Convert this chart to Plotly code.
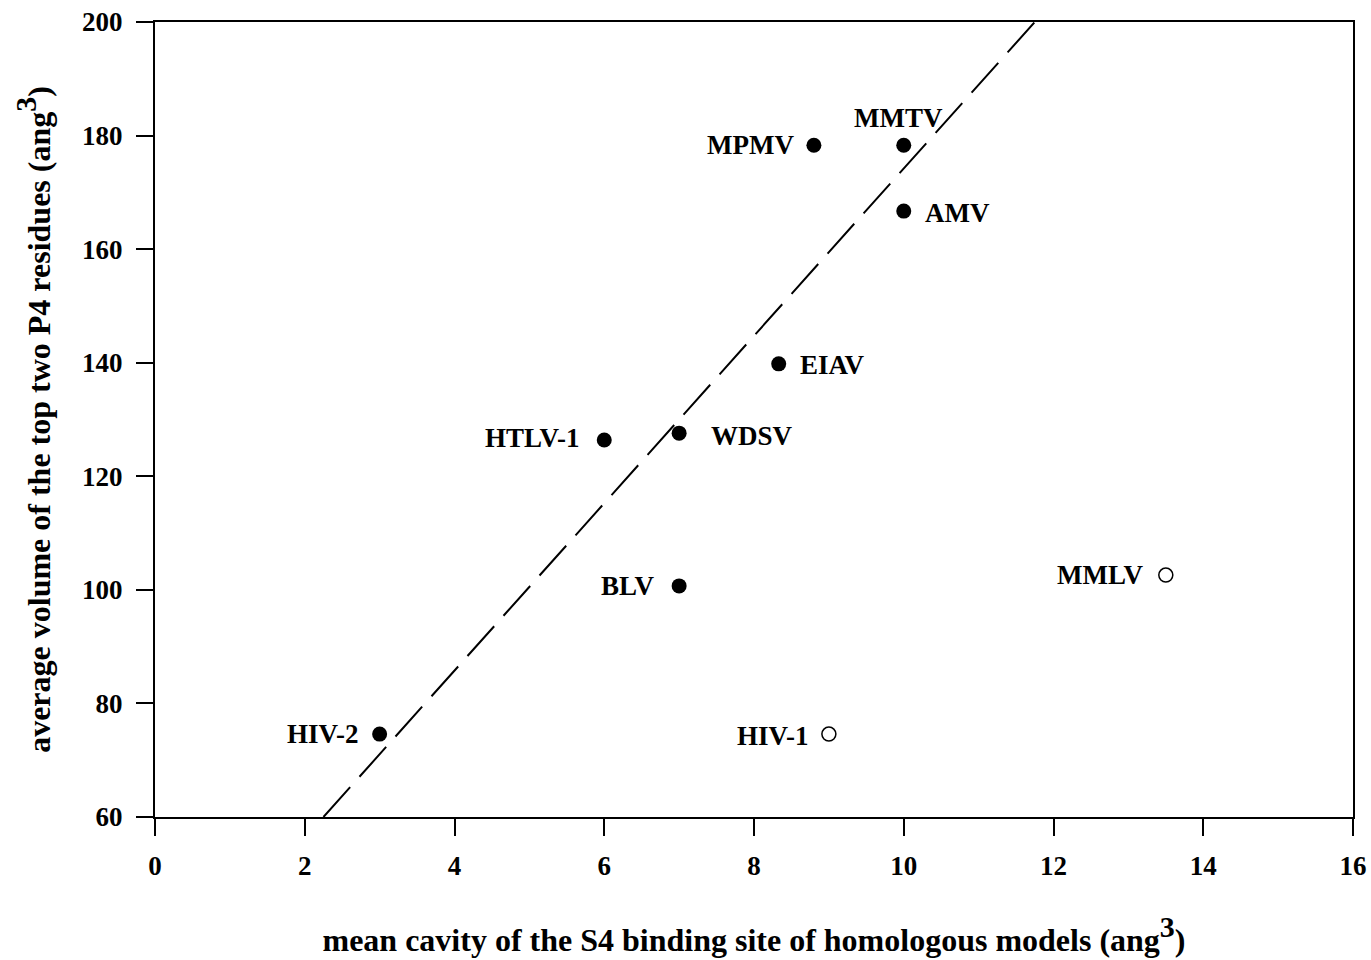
import plotly.graph_objects as go

# data
names_filled = ["MPMV", "MMTV", "AMV", "EIAV", "WDSV", "HTLV-1", "BLV", "HIV-2"]
x_filled = [8.8, 10.0, 10.0, 8.33, 7.0, 6.0, 7.0, 3.0]
y_filled = [178.3, 178.3, 166.7, 139.8, 127.6, 126.4, 100.7, 74.6]

names_open = ["HIV-1", "MMLV"]
x_open = [9.0, 13.5]
y_open = [74.6, 102.6]

fit_x = [2.25, 11.75]
fit_y = [60, 200]

x_ticks = [0, 2, 4, 6, 8, 10, 12, 14, 16]
y_ticks = [60, 80, 100, 120, 140, 160, 180, 200]

# label placement (style)
label_style = {
    "MPMV": ("right", -18, 0),
    "MMTV": ("center", -5, 27),
    "AMV": ("left", 19, -2),
    "EIAV": ("left", 19, -1),
    "WDSV": ("left", 30, -3),
    "HTLV-1": ("right", -22, 2),
    "BLV": ("right", -22, 0),
    "HIV-2": ("right", -19, 0),
    "HIV-1": ("right", -18, -2),
    "MMLV": ("right", -21, 0),
}

FONT = "Liberation Serif, Times New Roman, serif"
SUP3 = '<sup><span style="font-size:30px">3</span></sup>'

fig = go.Figure()
fig.add_trace(go.Scatter(x=fit_x, y=fit_y, mode="lines",
                         line=dict(color="black", width=2, dash="40px,14px"),
                         hoverinfo="skip", showlegend=False))
fig.add_trace(go.Scatter(x=x_filled, y=y_filled, mode="markers",
                         marker=dict(color="black", size=15, line=dict(width=0)),
                         showlegend=False))
fig.add_trace(go.Scatter(x=x_open, y=y_open, mode="markers",
                         marker=dict(color="white", size=14, line=dict(color="black", width=1.5)),
                         showlegend=False))

for n, x, y in zip(names_filled + names_open, x_filled + x_open, y_filled + y_open):
    anchor, dx, dy = label_style[n]
    fig.add_annotation(x=x, y=y, text="<b>%s</b>" % n, showarrow=False,
                       xanchor=anchor, yanchor="middle", xshift=dx, yshift=dy,
                       font=dict(family=FONT, size=27, color="black"))

axis_common = dict(showgrid=False, zeroline=False, showline=True, linecolor="black",
                   linewidth=2, mirror=True, ticks="outside", ticklen=17, tickwidth=2,
                   tickcolor="black", automargin=False,
                   tickfont=dict(family=FONT, size=27, color="black"))

fig.update_xaxes(range=[0, 16], tickvals=x_ticks,
                 ticktext=["<b>%d</b>" % t for t in x_ticks],
                 ticklabelstandoff=7,
                 title=dict(text="<b>mean cavity of the S4 binding site of homologous models (ang%s)</b>" % SUP3,
                            font=dict(family=FONT, size=32, color="black"), standoff=48),
                 **axis_common)
fig.update_yaxes(range=[60, 200], tickvals=y_ticks,
                 ticktext=["<b>%d</b>" % t for t in y_ticks],
                 ticklabelstandoff=8,
                 title=dict(text="<b>average volume of the top two P4 residues (ang%s)</b>" % SUP3,
                            font=dict(family=FONT, size=32, color="black"), standoff=22),
                 **axis_common)

fig.update_layout(width=1371, height=960, margin=dict(l=155, r=18, t=22, b=143),
                  plot_bgcolor="white", paper_bgcolor="white")

fig.write_html("out.html")
